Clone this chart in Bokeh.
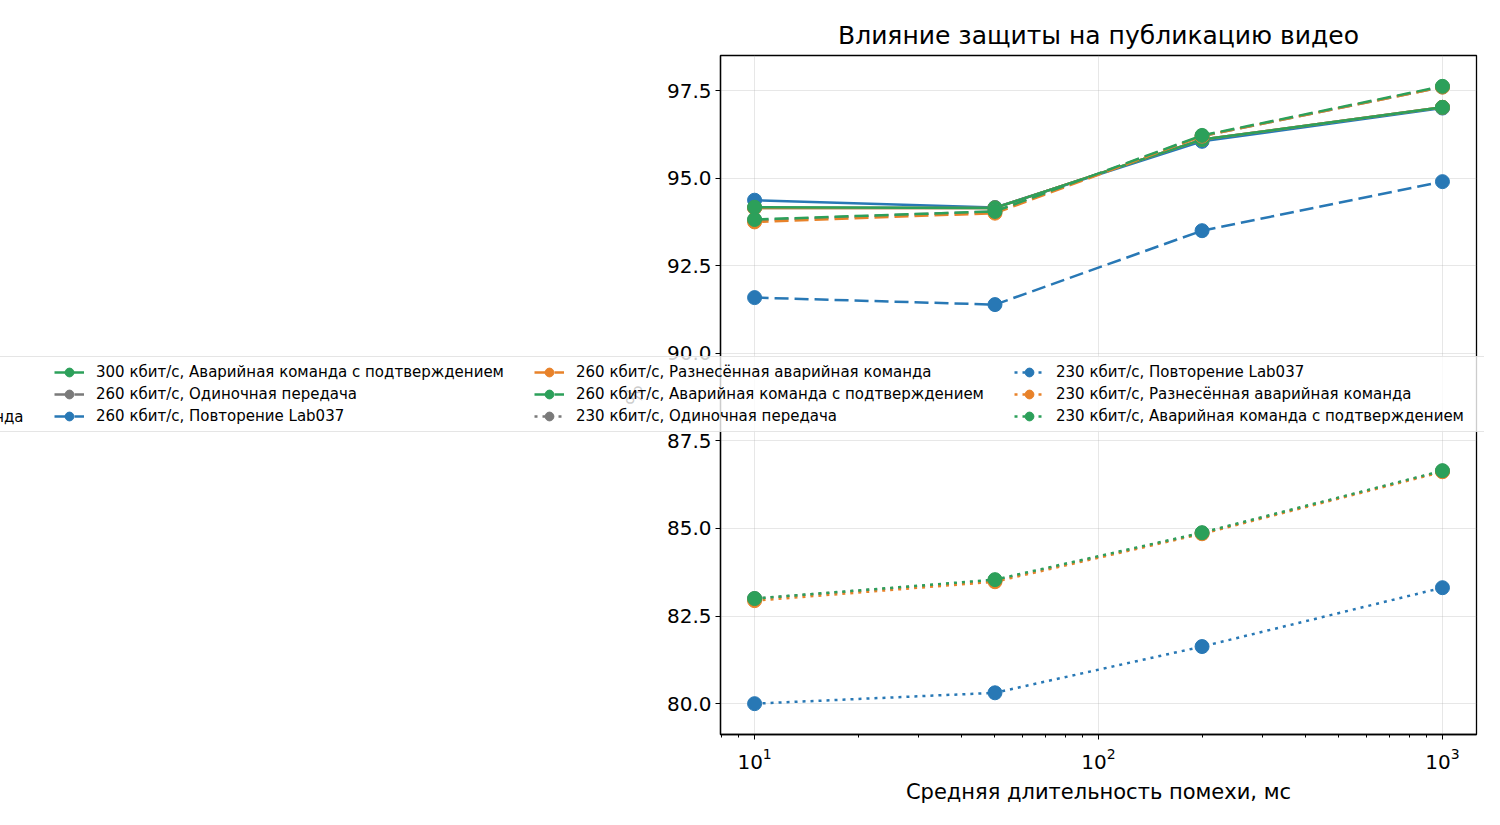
from bokeh.plotting import figure
from bokeh.layouts import column
from bokeh.models import Legend, LegendItem, FixedTicker, NumeralTickFormatter, LogTicker, Range1d
from bokeh.embed import file_html
from bokeh.resources import INLINE

# ---- data ----
interference_ms = [10, 50, 200, 1000]
rates = ["300 кбит/с", "260 кбит/с", "230 кбит/с"]
methods = ["Одиночная передача", "Повторение Lab037",
           "Разнесённая аварийная команда", "Аварийная команда с подтверждением"]

pub_300_single = [94.15, 94.15, 96.10, 97.02]
pub_300_repeat = [94.37, 94.16, 96.05, 97.00]
pub_300_spaced = [94.15, 94.15, 96.10, 97.02]
pub_300_ack = [94.17, 94.15, 96.10, 97.02]

pub_260_single = [93.80, 94.05, 96.20, 97.60]
pub_260_repeat = [91.59, 91.39, 93.50, 94.90]
pub_260_spaced = [93.75, 94.00, 96.20, 97.60]
pub_260_ack = [93.82, 94.05, 96.22, 97.62]

pub_230_single = [83.00, 83.52, 84.87, 86.64]
pub_230_repeat = [80.00, 80.31, 81.63, 83.31]
pub_230_spaced = [82.94, 83.48, 84.85, 86.62]
pub_230_ack = [83.00, 83.54, 84.88, 86.65]

y_ticks = [80.0, 82.5, 85.0, 87.5, 90.0, 92.5, 95.0, 97.5]

series = {
    "300 кбит/с": [pub_300_single, pub_300_repeat, pub_300_spaced, pub_300_ack],
    "260 кбит/с": [pub_260_single, pub_260_repeat, pub_260_spaced, pub_260_ack],
    "230 кбит/с": [pub_230_single, pub_230_repeat, pub_230_spaced, pub_230_ack],
}

# ---- styles ----
method_colors = ["#7a7a7a", "#2878b5", "#e8822a", "#2ca05a"]
rate_dash = {"300 кбит/с": "solid", "260 кбит/с": "14 6", "230 кбит/с": "3 5"}
FONT = "DejaVu Sans"
W, H = 1484, 809

p = figure(width=W, height=H, x_axis_type="log",
           x_range=Range1d(7.96, 1256), y_range=Range1d(79.12, 98.5),
           output_backend="svg", toolbar_location=None,
           min_border_left=720, min_border_right=8, min_border_top=55, min_border_bottom=75,
           title="Влияние защиты на публикацию видео")
p.frame_align = False

p.title.align = "center"
p.title.text_font = FONT
p.title.text_font_size = "25px"
p.title.text_font_style = "normal"
p.title.text_color = "black"
p.title.standoff = 12

p.outline_line_color = "black"
p.outline_line_width = 1.3
p.outline_line_alpha = 1.0

for ax in (p.xaxis[0], p.yaxis[0]):
    ax.axis_line_width = 1.3
    ax.axis_line_color = "black"
    ax.major_tick_line_color = "black"
    ax.minor_tick_line_color = "black"
    ax.major_tick_in = 0
    ax.major_tick_out = 5
    ax.minor_tick_in = 0
    ax.minor_tick_out = 3
    ax.major_label_text_font = FONT
    ax.major_label_text_font_size = "20px"
    ax.major_label_text_color = "black"
    ax.axis_label_text_font = FONT
    ax.axis_label_text_font_size = "21px"
    ax.axis_label_text_font_style = "normal"
    ax.axis_label_text_color = "black"

p.xaxis.ticker = LogTicker(num_minor_ticks=10, desired_num_ticks=3)
p.xaxis.axis_label = "Средняя длительность помехи, мс"
p.xaxis.major_label_standoff = 8
p.xaxis.axis_label_standoff = 8

p.yaxis.ticker = FixedTicker(ticks=y_ticks, minor_ticks=[])
p.yaxis.formatter = NumeralTickFormatter(format="0.0")
p.yaxis.axis_label = "%"
p.yaxis.major_label_standoff = 4
p.yaxis.axis_label_standoff = 17

p.xgrid.grid_line_color = "#b0b0b0"
p.xgrid.grid_line_alpha = 0.3
p.ygrid.grid_line_color = "#b0b0b0"
p.ygrid.grid_line_alpha = 0.3

for rate in rates:
    for mi, method in enumerate(methods):
        vals = series[rate][mi]
        c = method_colors[mi]
        p.line(interference_ms, vals, line_color=c, line_width=2.5, line_dash=rate_dash[rate])
        p.scatter(interference_ms, vals, size=14, fill_color=c, line_color=c)

# ---- transparent overlay canvas holding the legend (it spills past the plot area) ----
q = figure(width=W, height=H, x_range=Range1d(-1, 0), y_range=Range1d(-1, 0),
           output_backend="svg", toolbar_location=None,
           x_axis_location=None, y_axis_location=None,
           min_border=0, min_border_left=0, min_border_right=0,
           min_border_top=0, min_border_bottom=0,
           outline_line_color=None, background_fill_alpha=0.0, border_fill_alpha=0.0,
           styles={"margin-top": f"-{H}px"})
q.frame_align = False
q.grid.visible = False

# the overlay's ranges keep these series copies out of view; they only feed the legend
items = []
for rate in rates:
    for mi, method in enumerate(methods):
        vals = series[rate][mi]
        c = method_colors[mi]
        r_line = q.line(interference_ms, vals, line_color=c, line_width=2.5,
                        line_dash=rate_dash[rate])
        r_pts = q.scatter(interference_ms, vals, size=14, fill_color=c, line_color=c)
        items.append(LegendItem(label=f"{rate}, {method}", renderers=[r_line, r_pts]))

common = dict(orientation="vertical", nrows=3,
              label_text_font=FONT, label_text_font_size="15px", label_text_color="black",
              glyph_width=30, glyph_height=22, label_height=22,
              label_standoff=12, spacing=0, padding=4, margin=0,
              inactive_fill_alpha=0.0)

placeholders = [LegendItem(label=" ", renderers=[]) for _ in range(3)]
legend_main = Legend(items=placeholders + items[3:], location=(-431, 377),
                     label_width=438,
                     background_fill_color="white", background_fill_alpha=0.8,
                     border_line_color="#cccccc", border_line_width=1.5,
                     border_radius=3, **common)
legend_first = Legend(items=items[:3], location=(-378, 377), label_width=10,
                      background_fill_alpha=0.0, border_line_alpha=0.0, **common)
q.add_layout(legend_main)
q.add_layout(legend_first)

layout = column(p, q, spacing=0)
open("out.html", "w").write(file_html(layout, INLINE))
